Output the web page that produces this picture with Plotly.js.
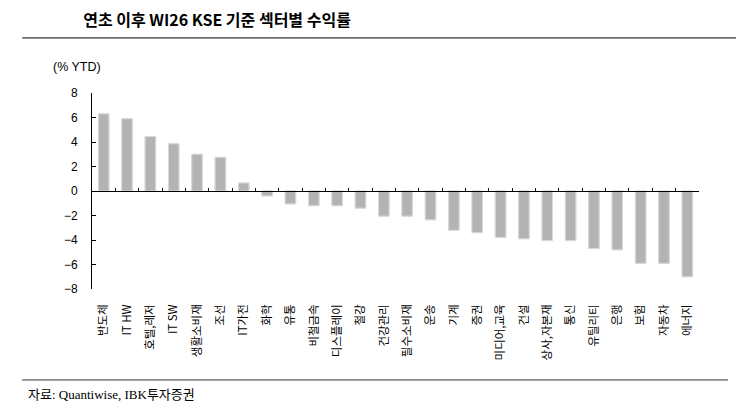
<!DOCTYPE html>
<html>
<head>
<meta charset="utf-8">
<script src="https://cdn.plot.ly/plotly-3.0.1.min.js"></script>
<style>
  html, body { margin: 0; padding: 0; background: #fff; }
  #chart { width: 736px; height: 409px; }
</style>
</head>
<body>
<div id="chart"></div>
<script>
// 연초 이후 WI26 KSE 기준 섹터별 수익률 (% YTD)
var sectors = ['반도체', 'IT HW', '호텔,레저', 'IT SW', '생활소비재', '조선', 'IT가전', '화학', '유통',
  '비철금속', '디스플레이', '철강', '건강관리', '필수소비재', '운송', '기계', '증권', '미디어,교육',
  '건설', '상사,자본재', '통신', '유틸리티', '은행', '보험', '자동차', '에너지'];
var returns = [6.3, 5.9, 4.45, 3.85, 3.0, 2.75, 0.65, -0.4, -1.05, -1.2, -1.2, -1.4, -2.05,
  -2.05, -2.35, -3.2, -3.4, -3.8, -3.9, -4.05, -4.05, -4.7, -4.8, -5.9, -5.9, -7.0];
var yTicks = [-8, -6, -4, -2, 0, 2, 4, 6, 8];

var baseFont = 'Liberation Sans, Noto Sans CJK KR, sans-serif';

var bars = {
  type: 'bar',
  x: sectors,
  y: returns,
  width: 0.45,
  marker: { color: '#b3b3b3', line: { color: '#dadada', width: 1 } },
  hoverinfo: 'x+y'
};
// same bars on the zero-line axis so it has ticks at category boundaries
var barsOnZero = Object.assign({}, bars, { xaxis: 'x2', hoverinfo: 'skip' });

var layout = {
  width: 736,
  height: 409,
  margin: { l: 92, r: 37, t: 93, b: 120 },
  paper_bgcolor: '#fff',
  plot_bgcolor: '#fff',
  showlegend: false,
  font: { family: baseFont, size: 12, color: '#000' },
  title: {
    text: '<b>연초 이후 WI26 KSE 기준 섹터별 수익률</b>',
    font: { family: 'Noto Sans CJK KR, sans-serif', size: 16, color: '#000' },
    xref: 'container', x: 0.113, xanchor: 'left',
    yref: 'container', y: 0.951, yanchor: 'middle'
  },
  xaxis: {
    type: 'category',
    showline: false,
    ticks: '',
    tickangle: -90,
    ticklabelstandoff: 12,
    tickfont: { family: 'Noto Sans CJK KR, sans-serif', size: 11.5 },
    showgrid: false,
    zeroline: false
  },
  xaxis2: {
    type: 'category',
    overlaying: 'x',
    matches: 'x',
    anchor: 'free',
    position: 0.5,
    showline: true,
    linecolor: '#000',
    linewidth: 1,
    ticks: 'inside',
    tickson: 'boundaries',
    ticklen: 3,
    tickcolor: '#000',
    showticklabels: false,
    showgrid: false,
    zeroline: false
  },
  yaxis: {
    range: [-8, 8],
    tickvals: yTicks,
    ticks: 'inside',
    ticklen: 4,
    tickcolor: '#000',
    showline: true,
    linecolor: '#000',
    linewidth: 1,
    showgrid: false,
    zeroline: false,
    ticklabelstandoff: 11,
    tickfont: { family: baseFont, size: 12 }
  },
  shapes: [
    { type: 'line', xref: 'paper', yref: 'paper', x0: -0.115, x1: 1.061, y0: 1.281, y1: 1.281,
      line: { color: '#000', width: 1 } },
    { type: 'line', xref: 'paper', yref: 'paper', x0: -0.115, x1: 1.048, y0: -0.464, y1: -0.464,
      line: { color: '#333', width: 1 } }
  ],
  annotations: [
    { text: '(% YTD)', xref: 'paper', yref: 'paper', x: -0.068, y: 1.133,
      xanchor: 'left', yanchor: 'middle', showarrow: false,
      font: { family: baseFont, size: 12.5 } },
    { text: '자료: Quantiwise, IBK투자증권', xref: 'paper', yref: 'paper', x: -0.109, y: -0.536,
      xanchor: 'left', yanchor: 'middle', showarrow: false,
      font: { family: 'Liberation Serif, Noto Sans CJK KR, serif', size: 13 } }
  ]
};

Plotly.newPlot('chart', [bars, barsOnZero], layout, { displayModeBar: false, staticPlot: true });
</script>
</body>
</html>
